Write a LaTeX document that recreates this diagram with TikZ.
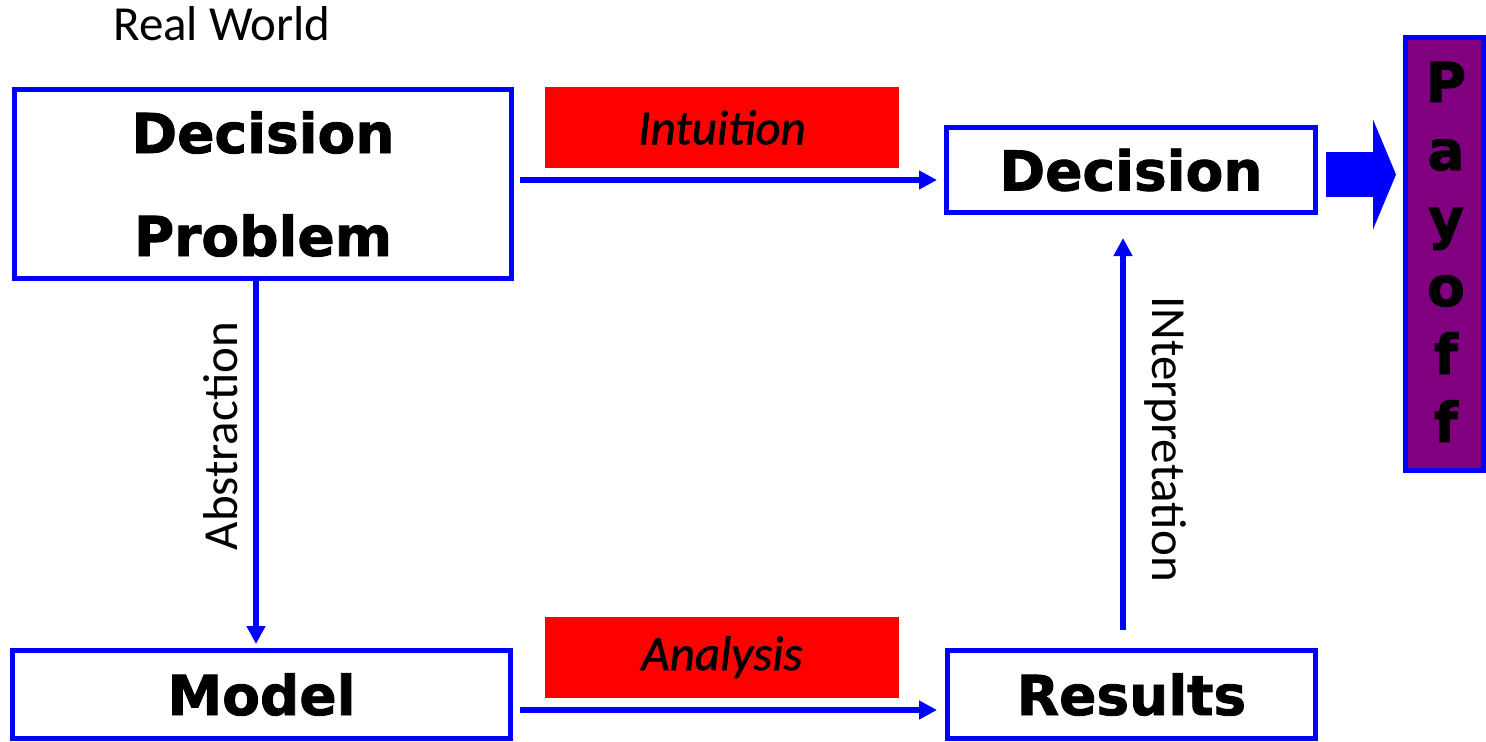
\documentclass[tikz,border=0pt]{standalone}
\usepackage{fontspec}
\setmainfont{Carlito}[ItalicFeatures = {FakeBold = 1.2}]
\newfontfamily\boxfont{DejaVu Sans}[BoldFeatures = {FakeBold = 1.6}]
\usetikzlibrary{arrows.meta}
\definecolor{frame_blue}{HTML}{0000FF}
\definecolor{label_red}{HTML}{FF0000}
\definecolor{payoff_purple}{HTML}{800080}

\begin{document}
\begin{tikzpicture}[x={(.5pt,0)}, y={(0,-.5pt)}]
            \tikzstyle{box} = [draw = frame_blue, line width = 2.5pt, inner sep = 0pt, align = center, font = \boxfont\bfseries\fontsize{27.5}{51.5}\selectfont];
            \tikzstyle{tag} = [fill = label_red, inner sep = 0pt, minimum width = 177pt, minimum height = 40.5pt, font = \itshape\fontsize{24.5}{29}\selectfont];
            \tikzstyle{side} = [anchor = base, font = \fontsize{24.5}{29}\selectfont];
            \tikzstyle{flow} = [draw = frame_blue, line width = 2.75pt, -{Triangle[length = 9pt, width = 9pt]}];
            \useasboundingbox (0,0) rectangle (1486,741);
            \node[side] (real) at (222,40) {Real World};
            \node[box, minimum width = 248.5pt, minimum height = 94.5pt] (problem) at (263,184) {Decision\\Problem};
            \node[box, minimum width = 184.5pt, minimum height = 42.5pt] (decision) at (1131,170) {Decision};
            \node[box, minimum width = 249pt, minimum height = 44pt] (model) at (261.5,694.5) {Model};
            \node[box, minimum width = 184pt, minimum height = 44pt] (results) at (1131.5,694.5) {Results};
            \node[box, fill = payoff_purple, minimum width = 39pt, minimum height = 216.5pt] (payoff) at (1444.5,254) {};
            \foreach \l [count=\i] in {P,a,y,o,f,f}
            {\node[anchor = base, font = \boxfont\bfseries\fontsize{27.5}{33}\selectfont] (pay\i) at (1446,34+68*\i) {\l};}
            \node[tag] (intuition) at (722,127.5) {Intuition};
            \node[tag] (analysis) at (722,657) {Analysis};
            \draw[flow, shorten <= 3pt, shorten >= 3.5pt] ([yshift = 2pt]problem.east) -- ([yshift = 2pt]problem.east -| decision.west);
            \draw[flow, shorten <= 3.5pt, shorten >= 4pt] ([yshift = -7.75pt]model.east) -- ([yshift = -7.75pt]model.east -| results.west);
            \draw[flow, shorten >= 2pt] ([xshift = -3.5pt]problem.south) -- ([xshift = -3.5pt]problem.south |- model.north);
            \draw[flow, shorten <= 9pt, shorten >= 11.5pt] ([xshift = -4.25pt]results.north) -- ([xshift = -4.25pt]results.north |- decision.south);
            \node[side, rotate = 90] (abstraction) at (237,436) {Abstraction};
            \node[side, rotate = -90] (interpretation) at (1152,439) {INterpretation};
            \draw[frame_blue, line width = 22.5pt, -{Triangle[length = 11.5pt, width = 55pt, line width = 0pt]}, shorten <= 4pt, shorten >= 3.5pt] ([yshift = -2.25pt]decision.east) -- ([yshift = -2.25pt]decision.east -| payoff.west);
        \end{tikzpicture}
\end{document}
